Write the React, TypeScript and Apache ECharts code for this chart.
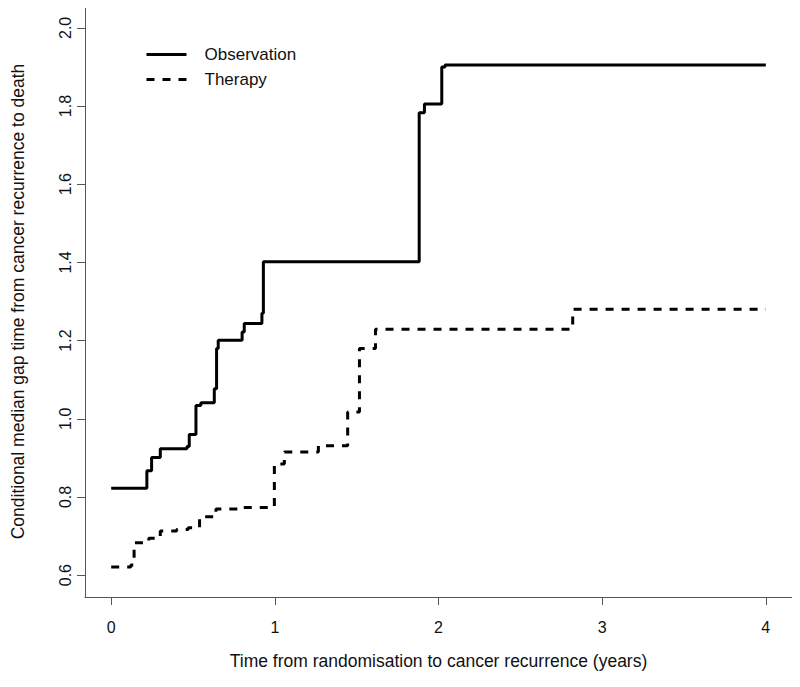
import React, { useEffect, useRef } from "react";
import * as echarts from "echarts";

const xTicks = [0, 1, 2, 3, 4];
const yTicks = [0.6, 0.8, 1.0, 1.2, 1.4, 1.6, 1.8, 2.0];

const observationX = [0, 0.218, 0.247, 0.3, 0.463, 0.477, 0.518, 0.548, 0.63, 0.644, 0.654, 0.8, 0.813, 0.921, 0.93, 1.882, 1.914, 2.02, 2.04, 4.0];
const observationY = [0.822, 0.867, 0.901, 0.923, 0.929, 0.96, 1.034, 1.041, 1.077, 1.18, 1.201, 1.222, 1.244, 1.27, 1.402, 1.783, 1.805, 1.9, 1.905, 1.905];

const therapyX = [0, 0.12, 0.14, 0.23, 0.3, 0.4, 0.47, 0.54, 0.64, 0.8, 0.997, 1.058, 1.266, 1.445, 1.517, 1.615, 2.82, 4.0];
const therapyY = [0.621, 0.626, 0.683, 0.694, 0.713, 0.717, 0.721, 0.749, 0.769, 0.773, 0.884, 0.915, 0.931, 1.017, 1.18, 1.229, 1.28, 1.28];

const FONT = "'Liberation Sans', Arial, sans-serif";
const BOX = "#555";

export default function App() {
  const ref = useRef<HTMLDivElement>(null);
  useEffect(() => {
    if (!ref.current) return;
    const chart = echarts.init(ref.current, null, { renderer: "svg" });
    const obs = observationX.map((x, i) => [x, observationY[i]]);
    const ther = therapyX.map((x, i) => [x, therapyY[i]]);
    const plainAxisLine = { show: true, onZero: false, lineStyle: { color: BOX, width: 1 } };
    chart.setOption({
      animation: false,
      backgroundColor: "#fff",
      grid: { left: 85, right: 8, top: 6, bottom: 90 },
      legend: {
        orient: "vertical",
        left: 145,
        top: 46,
        padding: 0,
        itemWidth: 40,
        itemHeight: 14,
        itemGap: 8,
        itemStyle: { opacity: 0 },
        lineStyle: { width: 3 },
        textStyle: { fontFamily: FONT, fontSize: 17, color: "#111", padding: [0, 0, 0, 13] },
        data: ["Observation", "Therapy"],
      },
      xAxis: [
        {
          type: "value",
          min: -0.16,
          max: 4.16,
          position: "bottom",
          name: "Time from randomisation to cancer recurrence (years)",
          nameLocation: "middle",
          nameGap: 55,
          nameTextStyle: { fontFamily: FONT, fontSize: 17.5, color: "#111" },
          axisLine: plainAxisLine,
          splitLine: { show: false },
          axisTick: { show: true, length: 8, customValues: xTicks, lineStyle: { color: BOX } },
          axisLabel: {
            customValues: xTicks,
            fontFamily: FONT,
            fontSize: 16,
            color: "#111",
            margin: 22,
            formatter: (v: number) => String(v),
          },
        },
        {
          type: "value",
          min: -0.16,
          max: 4.16,
          position: "top",
          axisLine: plainAxisLine,
          axisTick: { show: false },
          axisLabel: { show: false },
          splitLine: { show: false },
        },
      ],
      yAxis: [
        {
          type: "value",
          min: 0.544,
          max: 2.056,
          position: "left",
          name: "Conditional median gap time from cancer recurrence to death",
          nameLocation: "middle",
          nameGap: 58,
          nameRotate: 90,
          nameTextStyle: { fontFamily: FONT, fontSize: 17.5, color: "#111" },
          axisLine: plainAxisLine,
          splitLine: { show: false },
          axisTick: { show: true, length: 8, customValues: yTicks, lineStyle: { color: BOX } },
          axisLabel: {
            customValues: yTicks,
            rotate: 90,
            fontFamily: FONT,
            fontSize: 16,
            color: "#111",
            margin: 12,
            formatter: (v: number) => v.toFixed(1),
          },
        },
        {
          type: "value",
          min: 0.544,
          max: 2.056,
          position: "right",
          axisLine: plainAxisLine,
          axisTick: { show: false },
          axisLabel: { show: false },
          splitLine: { show: false },
        },
      ],
      series: [
        {
          name: "Observation",
          type: "line",
          step: "end",
          symbol: "none",
          clip: false,
          data: obs,
          lineStyle: { color: "#000", width: 3, type: "solid" },
          itemStyle: { color: "#000" },
        },
        {
          name: "Therapy",
          type: "line",
          step: "end",
          symbol: "none",
          clip: false,
          data: ther,
          lineStyle: { color: "#000", width: 3, type: [8, 8] },
          itemStyle: { color: "#000" },
        },
      ],
    });
    return () => chart.dispose();
  }, []);
  return <div ref={ref} style={{ width: 800, height: 687, margin: -8 }} />;
}
